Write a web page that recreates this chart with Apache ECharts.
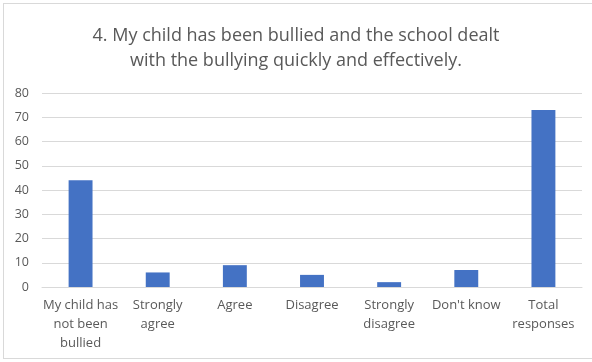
<!DOCTYPE html>
<html>
<head>
<meta charset="utf-8">
<script src="https://cdn.jsdelivr.net/npm/echarts@6/dist/echarts.min.js"></script>
<style>
  html, body { margin: 0; padding: 0; background: #fff; overflow: hidden; }
  #frame { position: absolute; left: 3px; top: 3px; width: 600px; height: 354px; border: 1px solid #d9d9d9; }
  #chart { position: absolute; left: 0; top: 0; width: 592px; height: 362px; }
</style>
</head>
<body>
<div id="frame"></div>
<div id="chart"></div>
<script>
const titleLines = [
  '4. My child has been bullied and the school dealt',
  'with the bullying quickly and effectively.'
];
const categories = [
  'My child has\nnot been\nbullied',
  'Strongly\nagree',
  'Agree',
  'Disagree',
  'Strongly\ndisagree',
  "Don't know",
  'Total\nresponses'
];
const responses = [44, 6, 9, 5, 2, 7, 73];
const yTicks = { min: 0, max: 80, step: 10 };

const textColor = '#595959';
const font = 'Open Sans, Liberation Sans, sans-serif';

const chart = echarts.init(document.getElementById('chart'), null, { renderer: 'canvas' });
chart.setOption({
  animation: false,
  title: {
    text: titleLines.join('\n'),
    left: 'center',
    top: 18,
    textStyle: { color: textColor, fontSize: 18, fontWeight: 'normal', fontFamily: font, lineHeight: 25 }
  },
  grid: { left: 42, right: 10, top: 93, bottom: 75, containLabel: false },
  xAxis: {
    type: 'category',
    data: categories,
    axisLine: { lineStyle: { color: '#d9d9d9' } },
    axisTick: { show: false },
    axisLabel: {
      color: textColor, fontSize: 13, fontFamily: font, lineHeight: 19,
      interval: 0, margin: 9
    }
  },
  yAxis: {
    type: 'value',
    min: yTicks.min,
    max: yTicks.max,
    interval: yTicks.step,
    axisLine: { show: false },
    axisTick: { show: false },
    splitLine: { lineStyle: { color: '#d9d9d9', width: 1 } },
    axisLabel: { color: textColor, fontSize: 12.5, fontFamily: font, margin: 13 }
  },
  series: [{
    type: 'bar',
    data: responses,
    barWidth: '31%',
    itemStyle: { color: '#4472c4' }
  }]
});
</script>
</body>
</html>
